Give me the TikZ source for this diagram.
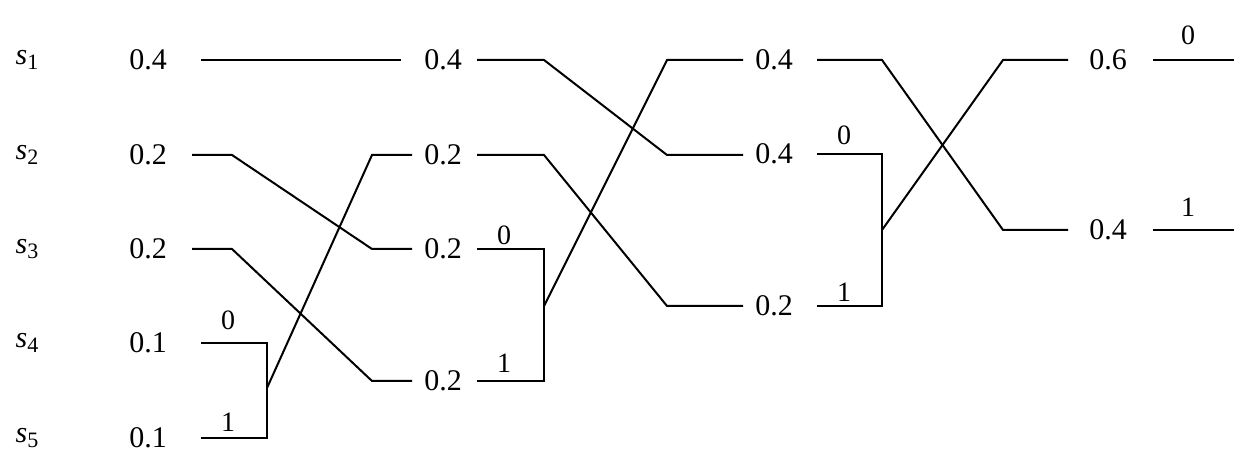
\documentclass[tikz,border=0pt]{standalone}
\usepackage{fontspec}
\setmainfont{Liberation Serif}
\begin{document}
\begin{tikzpicture}[x=0.5pt,y=-0.5pt,
  val/.style={font=\fontsize{15}{15}\selectfont, inner sep=0pt, anchor=center},
  bit/.style={font=\fontsize{14}{14}\selectfont, inner sep=0pt, anchor=center},
  sym/.style={font=\fontsize{15}{15}\selectfont, inner sep=0pt, anchor=center},
  wire/.style={draw=black, line width=1pt, line join=miter}]
\path[use as bounding box] (0,0) rectangle (1234,469);
% symbols
\foreach \i/\y in {1/60,2/155,3/249,4/343,5/438}
  \node[sym] (s\i) at (27,\y) {\textit{s}\raisebox{-0.35ex}{\fontsize{11}{11}\selectfont\i}};
% values
\node[val] (a1) at (148,60) {0.4};
\node[val] (a2) at (148,155) {0.2};
\node[val] (a3) at (148,249) {0.2};
\node[val] (a4) at (148,343) {0.1};
\node[val] (a5) at (148,438) {0.1};
\node[val] (b1) at (443,60) {0.4};
\node[val] (b2) at (443,155) {0.2};
\node[val] (b3) at (443,249) {0.2};
\node[val] (b4) at (443,381) {0.2};
\node[val] (c1) at (774,60) {0.4};
\node[val] (c2) at (774,154) {0.4};
\node[val] (c3) at (774,306) {0.2};
\node[val] (d1) at (1108,60) {0.6};
\node[val] (d2) at (1108,230) {0.4};
% bit labels
\node[bit] (l1) at (228,320) {0};
\node[bit] (l2) at (228,422) {1};
\node[bit] (l3) at (504,235) {0};
\node[bit] (l4) at (504,363) {1};
\node[bit] (l5) at (844,135) {0};
\node[bit] (l6) at (844,292) {1};
\node[bit] (l7) at (1188,35) {0};
\node[bit] (l8) at (1188,207) {1};
% coordinates for connectors
\coordinate (p1a) at (201,60);  \coordinate (p1b) at (401,60);
\coordinate (p2a) at (192,155); \coordinate (p2b) at (232,155); \coordinate (p2c) at (372,249); \coordinate (p2d) at (412,249);
\coordinate (p3a) at (192,249); \coordinate (p3b) at (232,249); \coordinate (p3c) at (372,381); \coordinate (p3d) at (412,381);
\coordinate (m1a) at (201,343); \coordinate (m1b) at (267,343); \coordinate (m1c) at (267,438); \coordinate (m1d) at (201,438);
\coordinate (m1m) at (267,388); \coordinate (m1e) at (372,155); \coordinate (m1f) at (412,155);
\coordinate (q1a) at (477,60);  \coordinate (q1b) at (544,60);  \coordinate (q1c) at (667,155); \coordinate (q1d) at (743,155);
\coordinate (q2a) at (477,155); \coordinate (q2b) at (544,155); \coordinate (q2c) at (667,306); \coordinate (q2d) at (743,306);
\coordinate (m2a) at (477,249); \coordinate (m2b) at (544,249); \coordinate (m2c) at (544,381); \coordinate (m2d) at (477,381);
\coordinate (m2m) at (544,306); \coordinate (m2e) at (667,60);  \coordinate (m2f) at (743,60);
\coordinate (r1a) at (817,60);  \coordinate (r1b) at (882,60);  \coordinate (r1c) at (1003,230); \coordinate (r1d) at (1068,230);
\coordinate (m3a) at (817,154); \coordinate (m3b) at (882,154); \coordinate (m3c) at (882,306); \coordinate (m3d) at (817,306);
\coordinate (m3m) at (882,230); \coordinate (m3e) at (1003,60); \coordinate (m3f) at (1068,60);
\coordinate (o1a) at (1153,60);  \coordinate (o1b) at (1234,60);
\coordinate (o2a) at (1153,230); \coordinate (o2b) at (1234,230);
% connectors
\draw[wire] (p1a) -- (p1b);
\draw[wire] (p2a) -- (p2b) -- (p2c) -- (p2d);
\draw[wire] (p3a) -- (p3b) -- (p3c) -- (p3d);
\draw[wire] (m1a) -- (m1b) -- (m1c) -- (m1d);
\draw[wire] (m1m) -- (m1e) -- (m1f);
\draw[wire] (q1a) -- (q1b) -- (q1c) -- (q1d);
\draw[wire] (q2a) -- (q2b) -- (q2c) -- (q2d);
\draw[wire] (m2a) -- (m2b) -- (m2c) -- (m2d);
\draw[wire] (m2m) -- (m2e) -- (m2f);
\draw[wire] (r1a) -- (r1b) -- (r1c) -- (r1d);
\draw[wire] (m3a) -- (m3b) -- (m3c) -- (m3d);
\draw[wire] (m3m) -- (m3e) -- (m3f);
\draw[wire] (o1a) -- (o1b);
\draw[wire] (o2a) -- (o2b);
\end{tikzpicture}
\end{document}
